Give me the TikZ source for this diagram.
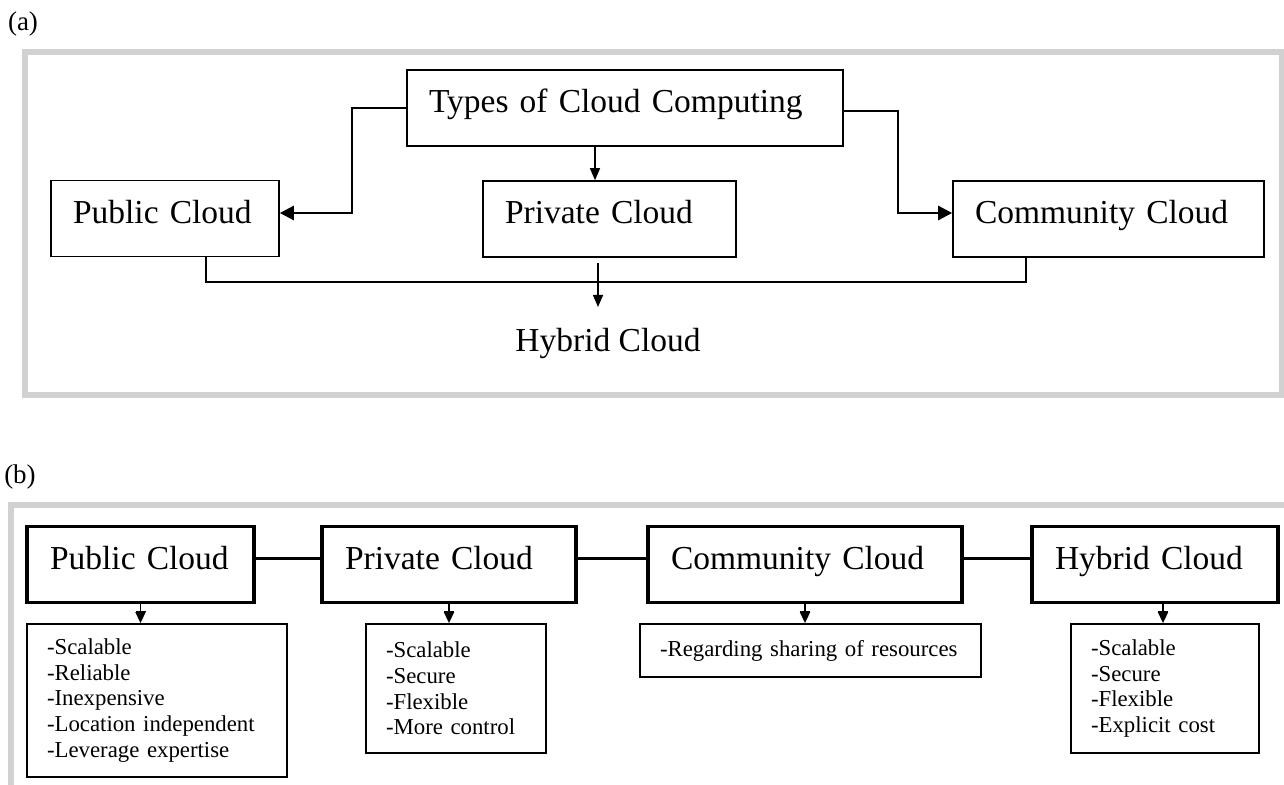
\documentclass[tikz,border=0pt]{standalone}
\usepackage{fontspec}
\setmainfont{Liberation Serif}
\usetikzlibrary{arrows.meta}

\definecolor{framegray}{gray}{0.82}
\newcommand{\bigtxt}{\fontsize{16.75pt}{20pt}\selectfont}
\newcommand{\smalltxt}{\fontsize{11.4pt}{12.85pt}\selectfont}
\newcommand{\tagtxt}{\fontsize{13.5pt}{16pt}\selectfont}

\begin{document}
\begin{tikzpicture}[x=0.5pt, y=-0.5pt,
  tbox/.style={draw, font=\bigtxt, align=left, inner xsep=11pt, minimum height=38pt,
    text height=11.7pt, text depth=6.7pt, line width=0.8pt},
  hbox/.style={tbox, inner xsep=11.5pt, line width=1.8pt},
  lbox/.style={draw, font=\smalltxt, align=left, inner xsep=10pt, line width=0.9pt},
  elbow/.style={line width=1.2pt},
  pointer/.style={elbow, -{Triangle[length=7pt,width=7pt]}},
  drop/.style={line width=0.7pt, -{Triangle[length=6pt,width=5pt]}},
  feed/.style={line width=0.8pt, -{Bar[width=5pt,line width=0.7pt] Triangle[length=5.5pt,width=5pt]}},
  link/.style={line width=1.5pt},
  frame/.style={draw=framegray, line width=3pt}]
  \useasboundingbox (0,0) rectangle (1284,785);

  % (a)
  \node[font=\tagtxt] (tagA) at (23,24) {(a)};
  \draw[frame] (25,52) rectangle (1282,395);

  \node[tbox, text width=196pt] (types) at (625,108) {Types of Cloud Computing};
  \node[tbox, text width=92pt] (pubA) at (165,218.5) {Public Cloud};
  \node[tbox, text width=104.5pt] (privA) at (609.5,219) {Private Cloud};
  \node[tbox, text width=133.5pt] (commA) at (1108.5,219) {Community Cloud};
  \node[font=\bigtxt, anchor=north, inner ysep=10.5pt] (hybA) at (608,307) {Hybrid Cloud};

  \coordinate (kneeL) at (352,160);
  \coordinate (kneeR) at (898,160);
  \coordinate (kneeH) at (600,282);

  \draw[pointer] (types.west) -| (kneeL) |- ([yshift=2.75pt]pubA.east);
  \draw[pointer] ([yshift=-1.5pt]types.east) -| (kneeR) |- ([yshift=3pt]commA.west);
  \draw[drop] ([xshift=-15pt]types.south) -- ([xshift=-15pt]types.south |- privA.north);
  \draw[elbow] ([xshift=20.5pt]pubA.south) |- (kneeH) -| ([xshift=-41.25pt]commA.south);
  \draw[drop] ([xshift=-5.75pt,yshift=-2.5pt]privA.south) -- ([xshift=-5pt]hybA.north);

  % (b)
  \node[font=\tagtxt] (tagB) at (20,477) {(b)};
  \draw[frame] (11,790) -- (11,505) -- (1290,505);

  \node[hbox, text width=90.5pt] (pubB) at (140.5,564.5) {Public Cloud};
  \node[hbox, text width=104pt] (privB) at (449,564.5) {Private Cloud};
  \node[hbox, text width=134pt] (commB) at (805,564.5) {Community Cloud};
  \node[hbox, text width=100pt] (hybB) at (1155,564.5) {Hybrid Cloud};

  \foreach \a/\b in {pubB/privB, privB/commB, commB/hybB}
    \draw[link] ([yshift=3pt]\a.east) -- ([yshift=3pt]\b.west);

  \node[lbox, text width=110pt, minimum height=76.5pt] (pubD) at (157,700.5)
    {-Scalable\\-Reliable\\-Inexpensive\\-Location independent\\-Leverage expertise};
  \node[lbox, text width=70pt, minimum height=64.5pt] (privD) at (456,688.5)
    {-Scalable\\-Secure\\-Flexible\\-More control};
  \node[lbox, text width=150.5pt, minimum height=26.5pt] (commD) at (810.5,650.5)
    {-Regarding sharing of resources};
  \node[lbox, text width=74pt, minimum height=64.5pt] (hybD) at (1165,688.5)
    {-Scalable\\-Secure\\-Flexible\\-Explicit cost};

  \foreach \a/\b/\s in {pubB/pubD/0, privB/privD/0, commB/commD/0, hybB/hybD/4}
    \draw[feed] ([xshift=\s pt]\a.south) -- ([xshift=\s pt]\a.south |- \b.north);
\end{tikzpicture}
\end{document}
